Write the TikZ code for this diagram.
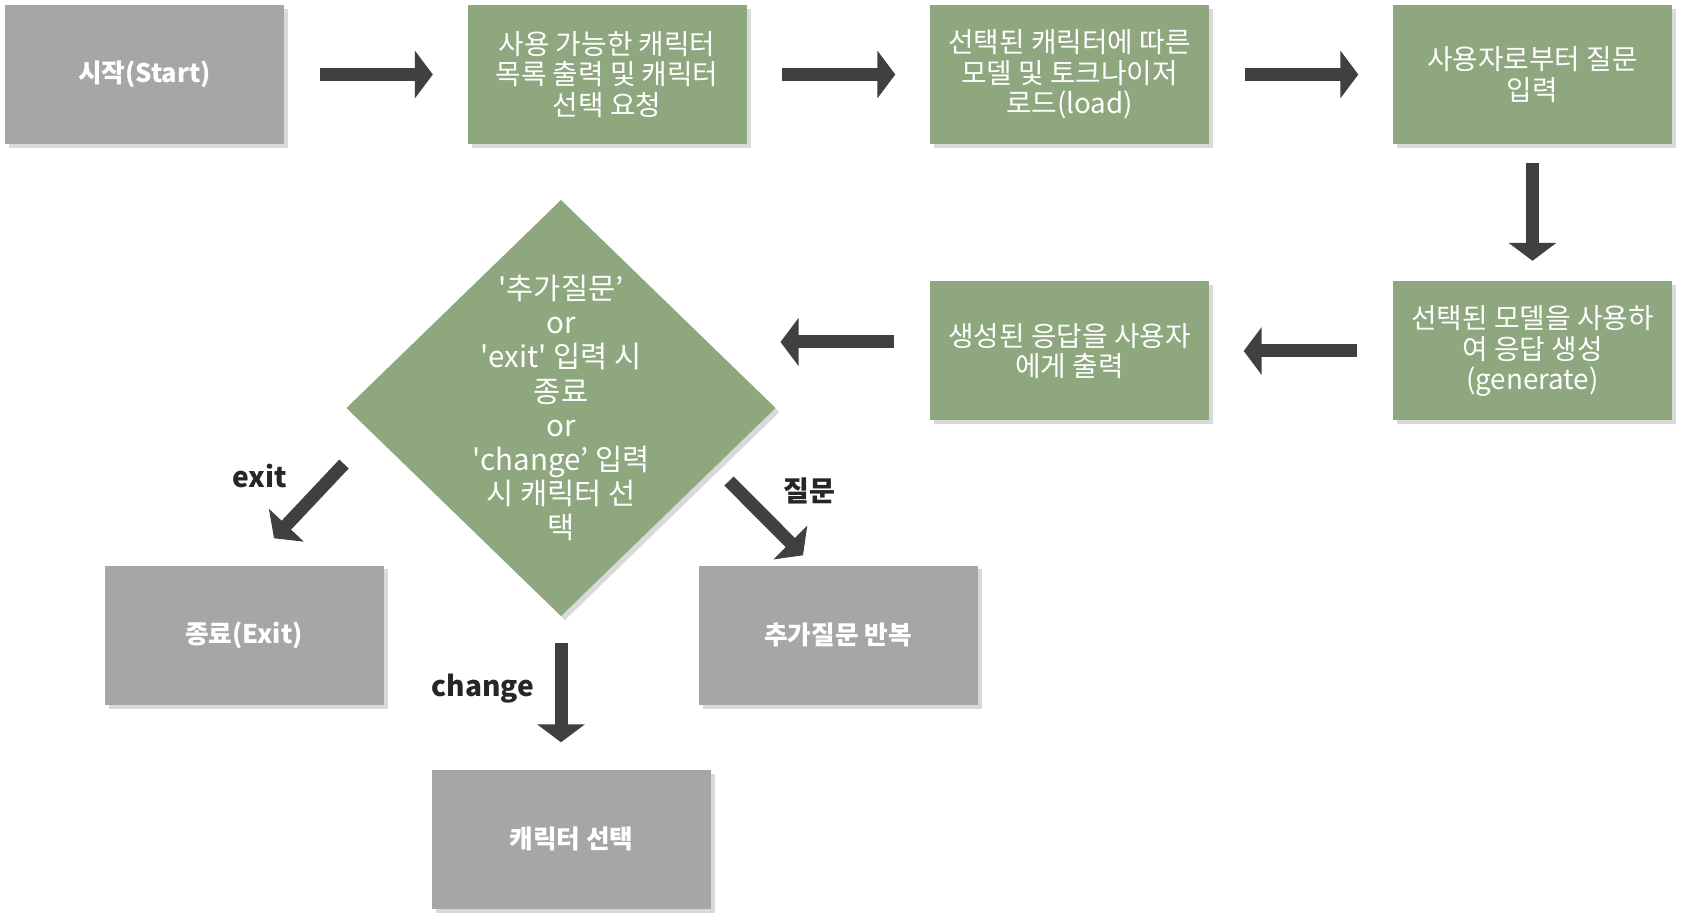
\documentclass[tikz,border=0pt]{standalone}
\usepackage{fontspec}
\setmainfont{Noto Sans CJK KR}
\usetikzlibrary{arrows.meta,shapes.geometric,shadows}
\definecolor{boxgreen}{RGB}{142,167,127}
\definecolor{boxgray}{RGB}{166,166,166}
\definecolor{arrowgray}{RGB}{64,64,64}
\definecolor{labelblack}{RGB}{38,38,38}
\begin{document}
\begin{tikzpicture}[
    stepbox/.style={minimum width=2.79cm, minimum height=1.39cm, inner sep=0pt, align=center,
      text=white, font=\fontsize{7.9}{8.7}\selectfont,
      drop shadow={shadow xshift=0.04cm, shadow yshift=-0.04cm, opacity=0.3}},
    greenbox/.style={stepbox, fill=boxgreen},
    graybox/.style={stepbox, fill=boxgray, font=\fontsize{7.3}{8.5}\selectfont\bfseries},
    decision/.style={diamond, fill=boxgreen, minimum width=4.29cm, minimum height=4.16cm,
      inner sep=0pt, outer sep=0pt,
      drop shadow={shadow xshift=0.04cm, shadow yshift=-0.04cm, opacity=0.3}},
    decisiontext/.style={align=center, text=white, font=\fontsize{8.4}{9.7}\selectfont},
    blockarrow/.style={draw=arrowgray, line width=0.13cm,
      -{Triangle[width=0.47cm, length=0.18cm]}, shorten <=0.35cm, shorten >=0.34cm},
    edgelabel/.style={text=labelblack, font=\fontsize{8}{9.6}\selectfont\bfseries}
  ]
  \useasboundingbox (0,0) rectangle (16.85,9.23);

  % top row
  \node[graybox] (start) at (1.445,8.485) {시작(Start)};
  \node[greenbox] (pick) at (6.07,8.485) {사용 가능한 캐릭터\\목록 출력 및 캐릭터\\선택 요청};
  \node[greenbox] (load) at (10.695,8.485) {선택된 캐릭터에 따른\\모델 및 토크나이저\\로드(load)};
  \node[greenbox] (ask) at (15.325,8.485) {사용자로부터 질문\\입력};

  % second row
  \node[greenbox] (gen) at (15.325,5.72) {선택된 모델을 사용하\\여 응답 생성\\(generate)};
  \node[greenbox] (show) at (10.695,5.72) {생성된 응답을 사용자\\에게 출력};
  \node[decision] (decide) at (5.61,5.15) {};
  \node[decisiontext] (decidetext) at (decide.center)
    {\textquotesingle 추가질문’\\or\\\textquotesingle exit\textquotesingle{} 입력 시\\종료\\or\\\textquotesingle change’ 입력\\시 캐릭터 선\\택};

  % results
  \node[graybox] (exitbox) at (2.44,2.88) {종료(Exit)};
  \node[graybox] (again) at (8.38,2.88) {추가질문 반복};
  \node[graybox] (charsel) at (5.715,0.84) {캐릭터 선택};

  % arrows
  \draw[blockarrow] (start) -- (pick);
  \draw[blockarrow] (pick) -- (load);
  \draw[blockarrow] (load) -- (ask);
  \draw[blockarrow, shorten <=0.18cm, shorten >=0.2cm] (ask) -- (gen);
  \draw[blockarrow] (gen) -- (show);
  \draw[blockarrow, shorten >=0.05cm] ([yshift=0.09cm]show.west) -- ([yshift=0.09cm]show.west -| decide.east);
  \draw[blockarrow, shorten <=0pt, shorten >=0pt] ([shift={(-0.025,-0.56)}]decide.west) -- ([shift={(0.3,0.265)}]exitbox.north);
  \draw[blockarrow, shorten <=0pt, shorten >=0pt] ([shift={(-0.465,-0.73)}]decide.east) -- ([shift={(-0.35,0.095)}]again.north);
  \draw[blockarrow, shorten <=0.27cm, shorten >=0.265cm] (decide.south) -- (decide.south |- charsel.north);

  % labels
  \node[edgelabel] (exitlabel) at (2.6,4.47) {exit};
  \node[edgelabel] (asklabel) at (8.09,4.32) {질문};
  \node[edgelabel] (changelabel) at (4.83,2.34) {change};
\end{tikzpicture}
\end{document}
